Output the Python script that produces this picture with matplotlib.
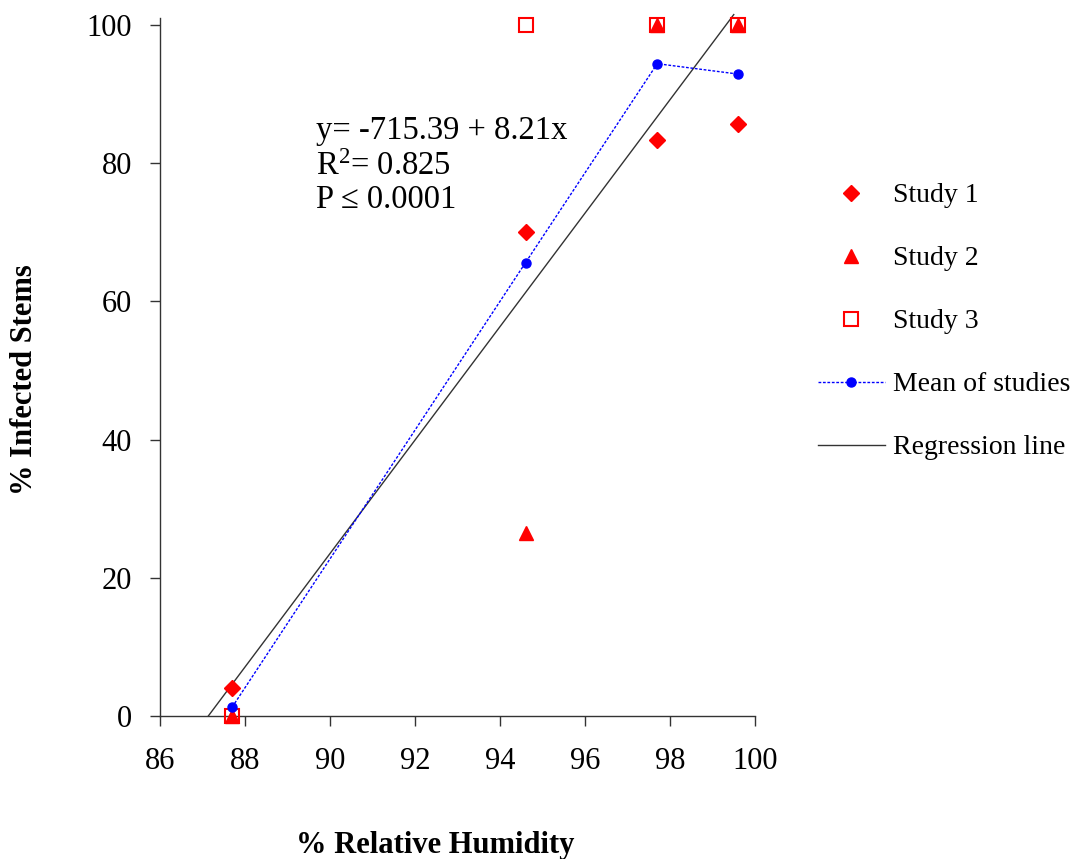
import matplotlib
matplotlib.use("Agg")
import matplotlib.pyplot as plt
import numpy as np

plt.rcParams['font.family'] = ['Liberation Serif', 'DejaVu Serif']
plt.rcParams['mathtext.fontset'] = 'custom'
plt.rcParams['mathtext.rm'] = 'Liberation Serif'
plt.rcParams['mathtext.it'] = 'Liberation Serif:italic'
plt.rcParams['mathtext.default'] = 'regular'

humidity = [87.7, 94.6, 97.7, 99.6]
study1 = [4.0, 70.0, 83.3, 85.7]
study2 = [0.0, 26.5, 100.0, 100.0]
study3 = [0.0, 100.0, 100.0, 100.0]
mean_studies = [1.3, 65.6, 94.4, 92.9]
reg_intercept = -715.39
reg_slope = 8.21
reg_x = [87.14, 99.5]
stats_lines = ['y= -715.39 + 8.21x', 'R$^{2}$= 0.825', 'P \u2264 0.0001']

xticks = [86, 88, 90, 92, 94, 96, 98, 100]
yticks = [0, 20, 40, 60, 80, 100]

fig = plt.figure(figsize=(10.79, 8.59), dpi=100)
W, H = 1079, 859
left, right, top, bottom = 160, 755, 25, 716
ax = fig.add_axes([left / W, 1 - bottom / H, (right - left) / W, (bottom - top) / H])

red = '#ff0000'
blue = '#0000ff'

ax.plot(humidity, study1, linestyle='none', marker='D', color=red, markersize=8.5,
        clip_on=False, zorder=3, label='Study 1')
ax.plot(humidity, study2, linestyle='none', marker='^', color=red, markersize=10,
        clip_on=False, zorder=3, label='Study 2')
ax.plot(humidity, study3, linestyle='none', marker='s', markerfacecolor='none',
        markeredgecolor=red, markeredgewidth=1.5, markersize=10,
        clip_on=False, zorder=4, label='Study 3')
ax.plot(humidity, mean_studies, linestyle=(0, (2, 1.2)), linewidth=1.0, color=blue,
        marker='o', markersize=6.5, clip_on=False, zorder=5, label='Mean of studies')
rx = np.array(reg_x)
ax.plot(rx, reg_intercept + reg_slope * rx, color='#333333', linewidth=1.0,
        clip_on=False, zorder=2, label='Regression line')

ax.set_xlim(86, 100)
ax.set_ylim(0, 100)
ax.set_xticks(xticks)
ax.set_yticks(yticks)
for s in ['top', 'right']:
    ax.spines[s].set_visible(False)
for s in ['left', 'bottom']:
    ax.spines[s].set_linewidth(1.0)
    ax.spines[s].set_color('#333333')
ax.spines['left'].set_bounds(0, 101)
ax.tick_params(axis='both', direction='out', length=7, width=1.0, color='#333333',
               labelsize=22)
ax.tick_params(axis='x', pad=15)
ax.tick_params(axis='y', pad=13)

ax.set_xlabel('% Relative Humidity', fontsize=22, fontweight='bold')
ax.xaxis.label.set_va('center')
ax.xaxis.set_label_coords((435 - left) / (right - left), -(846 - bottom) / (bottom - top))
ax.set_ylabel('% Infected Stems', fontsize=22, fontweight='bold')
ax.yaxis.label.set_va('center')
ax.yaxis.set_label_coords((25 - left) / (right - left), (bottom - 380) / (bottom - top))

baseline_px = [139, 175, 208]
for line, bpx in zip(stats_lines, baseline_px):
    ax.text(0.262, (bottom - bpx) / (bottom - top), line, transform=ax.transAxes,
            fontsize=23.5, va='baseline', ha='left')

leg = ax.legend(loc='upper left', bbox_to_anchor=(818 / W, 1 - 183 / H),
                bbox_transform=fig.transFigure, frameon=False, fontsize=20,
                handlelength=2.4, handletextpad=0.3, labelspacing=1.35,
                borderpad=0, borderaxespad=0)

fig.savefig('out.png', dpi=100)
